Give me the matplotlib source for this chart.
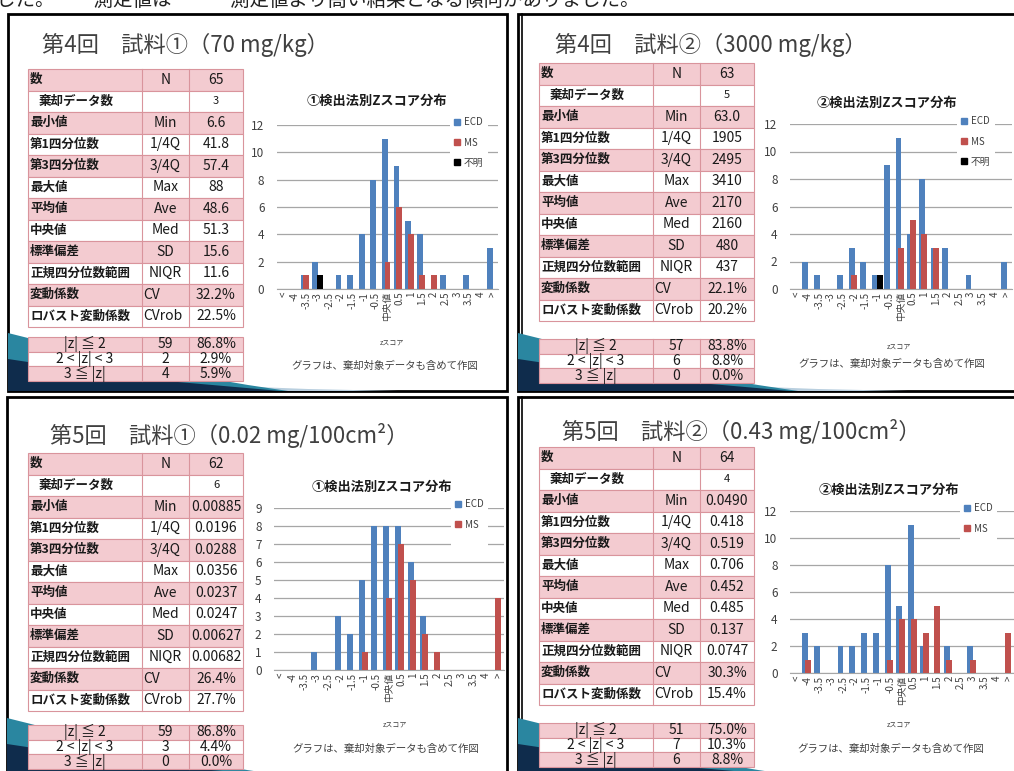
import matplotlib
matplotlib.use('Agg')
import matplotlib.pyplot as plt
from matplotlib.patches import Rectangle, Polygon, Patch
import numpy as np

plt.rcParams['font.family'] = ['Noto Sans CJK JP', 'DejaVu Sans']

W, H = 1014, 771

# ---- data ----
categories = ['<', '-4', '-3.5', '-3', '-2.5', '-2', '-1.5', '-1', '-0.5', '中央値',
              '0.5', '1', '1.5', '2', '2.5', '3', '3.5', '4', '>']

r4s1_ecd = [0, 0, 1, 2, 0, 1, 1, 4, 8, 11, 9, 5, 4, 0, 1, 0, 1, 0, 3]
r4s1_ms  = [0, 0, 1, 0, 0, 0, 0, 0, 0, 2, 6, 4, 1, 1, 0, 0, 0, 0, 0]
r4s1_unk = [0, 0, 0, 1, 0, 0, 0, 0, 0, 0, 0, 0, 0, 0, 0, 0, 0, 0, 0]

r4s2_ecd = [0, 2, 1, 0, 1, 3, 2, 1, 9, 11, 4, 8, 3, 3, 0, 1, 0, 0, 2]
r4s2_ms  = [0, 0, 0, 0, 0, 1, 0, 0, 0, 3, 5, 4, 3, 0, 0, 0, 0, 0, 0]
r4s2_unk = [0, 0, 0, 0, 0, 0, 0, 1, 0, 0, 0, 0, 0, 0, 0, 0, 0, 0, 0]

r5s1_ecd = [0, 0, 0, 1, 0, 3, 2, 5, 8, 8, 8, 6, 3, 0, 0, 0, 0, 0, 0]
r5s1_ms  = [0, 0, 0, 0, 0, 0, 0, 1, 0, 4, 7, 5, 2, 1, 0, 0, 0, 0, 4]

r5s2_ecd = [0, 3, 2, 0, 2, 2, 3, 3, 8, 5, 11, 2, 0, 2, 0, 2, 0, 0, 0]
r5s2_ms  = [0, 1, 0, 0, 0, 0, 0, 0, 1, 4, 4, 3, 5, 1, 0, 1, 0, 0, 3]

stat_labels = ['数', '棄却データ数', '最小値', '第1四分位数', '第3四分位数', '最大値',
               '平均値', '中央値', '標準偏差', '正規四分位数範囲', '変動係数', 'ロバスト変動係数']
stat_codes = ['N', '', 'Min', '1/4Q', '3/4Q', 'Max', 'Ave', 'Med', 'SD', 'NIQR', 'CV', 'CVrob']

r4s1_stats = ['65', '3', '6.6', '41.8', '57.4', '88', '48.6', '51.3', '15.6', '11.6', '32.2%', '22.5%']
r4s2_stats = ['63', '5', '63.0', '1905', '2495', '3410', '2170', '2160', '480', '437', '22.1%', '20.2%']
r5s1_stats = ['62', '6', '0.00885', '0.0196', '0.0288', '0.0356', '0.0237', '0.0247',
              '0.00627', '0.00682', '26.4%', '27.7%']
r5s2_stats = ['64', '4', '0.0490', '0.418', '0.519', '0.706', '0.452', '0.485',
              '0.137', '0.0747', '30.3%', '15.4%']

z_labels = ['|z| ≦ 2', '2 < |z| < 3', '3 ≦ |z|']
r4s1_zn = ['59', '2', '4']
r4s1_zp = ['86.8%', '2.9%', '5.9%']
r4s2_zn = ['57', '6', '0']
r4s2_zp = ['83.8%', '8.8%', '0.0%']
r5s1_zn = ['59', '3', '0']
r5s1_zp = ['86.8%', '4.4%', '0.0%']
r5s2_zn = ['51', '7', '6']
r5s2_zp = ['75.0%', '10.3%', '8.8%']

titles = ['第4回　試料①（70 mg/kg）', '第4回　試料②（3000 mg/kg）',
          '第5回　試料①（0.02 mg/100cm²）', '第5回　試料②（0.43 mg/100cm²）']
chart_titles = ['①検出法別Zスコア分布', '②検出法別Zスコア分布',
                '①検出法別Zスコア分布', '②検出法別Zスコア分布']
note = 'グラフは、棄却対象データも含めて作図'
top_line = 'した。　　測定値は　　　測定値より高い結果となる傾向がありました。'

ECD_C, MS_C, UNK_C = '#4f81bd', '#c0504d', '#000000'
PINK, PINK_LINE = '#f3cbd0', '#d9949c'

fig = plt.figure(figsize=(W / 100, H / 100), dpi=100)
bg = fig.add_axes([0, 0, 1, 1])
bg.set_xlim(0, W)
bg.set_ylim(H, 0)
bg.axis('off')

# sentence cut off at the very top, as in the source
bg.text(-4, 0, top_line, fontsize=14, color='#222222', va='center', ha='left')


def px_axes(x0, y0, x1, y1):
    return fig.add_axes([x0 / W, 1 - y1 / H, (x1 - x0) / W, (y1 - y0) / H])


def swoosh(xl, yb):
    teal = [(0, -58), (20, -53), (90, -35), (170, -18), (240, -6), (280, 0), (0, 0)]
    navy = [(0, -32), (80, -20), (170, -9), (250, -2), (272, 0), (0, 0)]
    light = [(170, -7), (300, -2), (390, 0), (170, 0)]
    bg.add_patch(Polygon([(xl + a, yb + b) for a, b in light], color='#b9cfdf', lw=0, zorder=1))
    bg.add_patch(Polygon([(xl + a, yb + b) for a, b in teal], color='#2a86a0', lw=0, zorder=1))
    bg.add_patch(Polygon([(xl + a, yb + b) for a, b in navy], color='#0f2c4c', lw=0, zorder=1))


def stat_table(x0, y0, stats, rh=21.5):
    cols = [x0, x0 + 114, x0 + 161, x0 + 215]
    for i in range(len(stat_labels)):
        y = y0 + i * rh
        fc = PINK if i % 2 == 0 else 'white'
        bg.add_patch(Rectangle((cols[0], y), cols[3] - cols[0], rh, fc=fc, ec=PINK_LINE, lw=0.8, zorder=3))
        cy = y + rh / 2
        lx = cols[0] + (11 if i == 1 else 2)
        bg.text(lx, cy, stat_labels[i], fontsize=9, fontweight='bold', color='#1a1a1a',
                va='center', ha='left', zorder=4)
        if stat_codes[i] in ('CV', 'CVrob'):
            bg.text(cols[1] + 1, cy, stat_codes[i], fontsize=10, color='#1a1a1a',
                    va='center', ha='left', zorder=4)
        else:
            bg.text((cols[1] + cols[2]) / 2, cy, stat_codes[i], fontsize=10, color='#1a1a1a',
                    va='center', ha='center', zorder=4)
        vs = 8 if i == 1 else 10
        bg.text((cols[2] + cols[3]) / 2, cy, stats[i], fontsize=vs, color='#1a1a1a',
                va='center', ha='center', zorder=4)
    for c in cols[1:3]:
        bg.plot([c, c], [y0, y0 + rh * len(stat_labels)], color=PINK_LINE, lw=0.8, zorder=3.5)


def z_table(x0, y0, zn, zp, rh=14.7):
    cols = [x0, x0 + 114, x0 + 161, x0 + 215]
    for i in range(3):
        y = y0 + i * rh
        fc = PINK if i % 2 == 0 else 'white'
        bg.add_patch(Rectangle((cols[0], y), cols[3] - cols[0], rh, fc=fc, ec=PINK_LINE, lw=0.8, zorder=3))
        cy = y + rh / 2
        bg.text((cols[0] + cols[1]) / 2, cy, z_labels[i], fontsize=10, color='#1a1a1a',
                va='center', ha='center', zorder=4)
        bg.text((cols[1] + cols[2]) / 2, cy, zn[i], fontsize=10, color='#1a1a1a',
                va='center', ha='center', zorder=4)
        bg.text((cols[2] + cols[3]) / 2, cy, zp[i], fontsize=10, color='#1a1a1a',
                va='center', ha='center', zorder=4)
    for c in cols[1:3]:
        bg.plot([c, c], [y0, y0 + rh * 3], color=PINK_LINE, lw=0.8, zorder=3.5)


def bar_chart(rect, ecd, ms, unk, ymax, ystep, leg_xy, show_unk):
    ax = px_axes(*rect)
    x = np.arange(len(categories))
    w, off = 0.5, 0.22
    ax.bar(x - off, ecd, w, color=ECD_C, zorder=2)
    ax.bar(x, ms, w, color=MS_C, zorder=3)
    if unk is not None:
        ax.bar(x + off, unk, w, color=UNK_C, zorder=4)
    ax.set_xlim(-0.5, len(categories) - 0.5)
    ax.set_ylim(0, ymax)
    ax.set_yticks(range(0, ymax + 1, ystep))
    ax.yaxis.grid(True, color='#a6a6a6', lw=0.9, zorder=0)
    ax.set_axisbelow(True)
    ax.set_xticks(x)
    ax.set_xticklabels(categories, rotation=90, fontsize=7, color='#404040')
    ax.tick_params(axis='y', labelsize=8.5, labelcolor='#404040', length=0, pad=9)
    ax.tick_params(axis='x', length=0, pad=2)
    for s in ('top', 'right', 'left'):
        ax.spines[s].set_visible(False)
    ax.spines['bottom'].set_color('#a6a6a6')
    ax.set_facecolor('none')
    handles = [Patch(color=ECD_C), Patch(color=MS_C)]
    labels = ['ECD', 'MS']
    if show_unk:
        handles.append(Patch(color=UNK_C))
        labels.append('不明')
    else:
        handles.append(Patch(color='none'))
        labels.append(' ')
    leg = ax.legend(handles, labels, loc='upper left', bbox_to_anchor=leg_xy,
                    bbox_transform=bg.transData, fontsize=7, handlelength=0.6,
                    handleheight=0.6, handletextpad=0.4, labelspacing=1.05,
                    borderpad=0.45, frameon=True, fancybox=False, framealpha=1,
                    edgecolor='none', facecolor='white', borderaxespad=0)
    for t in leg.get_texts():
        t.set_color('#404040')
    return ax


panels = [
    dict(border=(8, 14, 507, 391), title_xy=(42, 45), table=(28, 69), ztable=(28, 337),
         rect=(277, 125, 498, 289), ct=(377, 101), xl=(392, 343), nt=(385, 366),
         leg=(450, 113), stats=r4s1_stats, zn=r4s1_zn, zp=r4s1_zp,
         ecd=r4s1_ecd, ms=r4s1_ms, unk=r4s1_unk, ymax=12, ystep=2, double=False),
    dict(border=(518, 14, 1020, 391), title_xy=(555, 45), table=(539, 63), ztable=(539, 339),
         rect=(790, 124, 1012, 289), ct=(887, 103), xl=(899, 347), nt=(892, 364),
         leg=(957, 112), stats=r4s2_stats, zn=r4s2_zn, zp=r4s2_zp,
         ecd=r4s2_ecd, ms=r4s2_ms, unk=r4s2_unk, ymax=12, ystep=2, double=True),
    dict(border=(7, 397, 507, 780), title_xy=(50, 435), table=(28, 453), ztable=(28, 725),
         rect=(274, 508, 504, 670), ct=(382, 487), xl=(395, 725), nt=(386, 749),
         leg=(451, 495), stats=r5s1_stats, zn=r5s1_zn, zp=r5s1_zp,
         ecd=r5s1_ecd, ms=r5s1_ms, unk=None, ymax=9, ystep=1, double=False),
    dict(border=(518, 397, 1020, 780), title_xy=(562, 432), table=(539, 447), ztable=(539, 723),
         rect=(790, 511, 1014, 673), ct=(889, 490), xl=(899, 725), nt=(891, 749),
         leg=(960, 499), stats=r5s2_stats, zn=r5s2_zn, zp=r5s2_zp,
         ecd=r5s2_ecd, ms=r5s2_ms, unk=None, ymax=12, ystep=2, double=True),
]

for k, p in enumerate(panels):
    x0, y0, x1, y1 = p['border']
    bg.add_patch(Rectangle((x0, y0), x1 - x0, y1 - y0, fc='white', ec='black', lw=2, zorder=0.5))
    if p['double']:
        bg.plot([x0 + 4, x0 + 4], [y0, y1], color='black', lw=1.2, zorder=0.6)
    swoosh(x0, y1 if y1 < H else y0 + 379)
    bg.text(p['title_xy'][0], p['title_xy'][1], titles[k], fontsize=16, color='#404040',
            va='center', ha='left', zorder=4)
    stat_table(p['table'][0], p['table'][1], p['stats'])
    z_table(p['ztable'][0], p['ztable'][1], p['zn'], p['zp'])
    bg.text(p['ct'][0], p['ct'][1], chart_titles[k], fontsize=9.5, fontweight='bold',
            color='#1a1a1a', va='center', ha='center', zorder=4)
    bg.text(p['xl'][0], p['xl'][1], 'zスコア', fontsize=5, color='#404040',
            va='center', ha='center', zorder=4)
    bg.text(p['nt'][0], p['nt'][1], note, fontsize=7.5, color='#404040',
            va='center', ha='center', zorder=4)
    bar_chart(p['rect'], p['ecd'], p['ms'], p['unk'], p['ymax'], p['ystep'], p['leg'],
              p['unk'] is not None)

fig.savefig('out.png', dpi=100)
